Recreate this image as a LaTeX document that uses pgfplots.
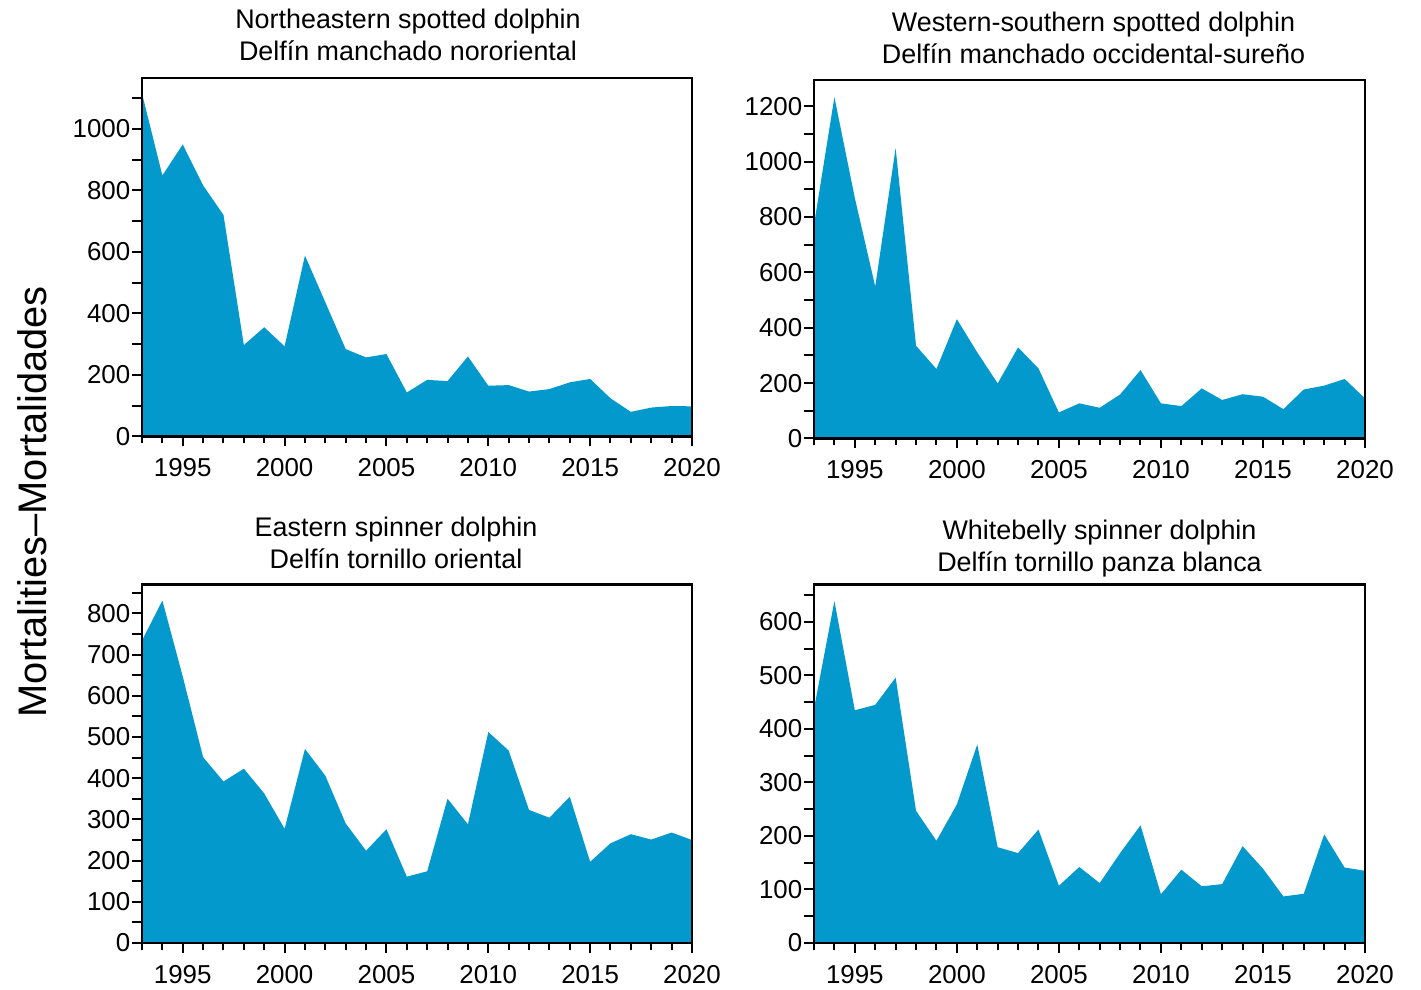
\documentclass[border=0pt]{standalone}
\usepackage{fontspec}
\setmainfont{Liberation Sans}
\usepackage{pgfplots}
\pgfplotsset{compat=1.18}
\definecolor{dolblue}{RGB}{3,153,204}
\pgfplotsset{
  panel/.style={
    scale only axis, width=551bp, height=358.5bp,
    xmin=1993, xmax=2020, ymin=0,
    xtick={1995,2000,...,2020},
    minor xtick={1993,...,2020},
    tick align=outside, tick pos=left,
    major tick length=10bp, minor tick length=7bp,
    tick style={line width=2bp, black},
    axis line style={line width=2.4bp, black},
    axis on top,
    /pgf/number format/1000 sep={},
    /pgf/number format/assume math mode=true,
    tick label style={font=\fontsize{26}{30}\selectfont},
    yticklabel style={inner sep=1.5bp},
    xticklabel style={inner sep=12bp},
    title style={font=\fontsize{27}{32}\selectfont, align=center, at={(0.5,1)}, anchor=south, inner sep=0pt, yshift=10bp},
  }
}
\begin{document}
\begin{tikzpicture}
\path[use as bounding box] (0bp,0bp) rectangle (1421bp,990bp);
\node[rotate=90, font=\fontsize{40}{48}\selectfont] at (32bp,488bp) {Mortalities–Mortalidades};

% Panel 1
\begin{axis}[panel, at={(142bp,553.5bp)}, anchor=south west, width=550bp,
  ymax=1165, ytick={0,100,...,1100}, yticklabels={0,,200,,400,,600,,800,,1000,},
  title={Northeastern spotted dolphin\\Delfín manchado nororiental},
  title style={xshift=-9bp, yshift=1bp}]
\addplot[fill=dolblue, draw=none] coordinates {
(1993,1115) (1994,848) (1995,949) (1996,816) (1997,720) (1998,297) (1999,355)
(2000,293) (2001,588) (2002,436) (2003,284) (2004,257) (2005,268) (2006,143)
(2007,184) (2008,180) (2009,260) (2010,165) (2011,167) (2012,146) (2013,154)
(2014,176) (2015,187) (2016,124) (2017,80) (2018,94) (2019,99) (2020,98)
} \closedcycle;
\end{axis}

% Panel 2
\begin{axis}[panel, at={(814bp,551.5bp)}, anchor=south west,
  ymax=1295, ytick={0,100,...,1200}, yticklabels={0,,200,,400,,600,,800,,1000,,1200},
  title={Western-southern spotted dolphin\\Delfín manchado occidental-sureño},
  title style={xshift=4bp}]
\addplot[fill=dolblue, draw=none] coordinates {
(1993,772) (1994,1233) (1995,869) (1996,549) (1997,1049) (1998,335) (1999,251)
(2000,431) (2001,311) (2002,199) (2003,329) (2004,253) (2005,94) (2006,127)
(2007,111) (2008,159) (2009,247) (2010,127) (2011,117) (2012,181) (2013,139)
(2014,160) (2015,151) (2016,106) (2017,177) (2018,191) (2019,215) (2020,145)
} \closedcycle;
\end{axis}

% Panel 3
\begin{axis}[panel, at={(142bp,47bp)}, anchor=south west, width=550bp,
  ymax=870, ytick={0,50,...,850}, yticklabels={0,,100,,200,,300,,400,,500,,600,,700,,800,},
  title={Eastern spinner dolphin\\Delfín tornillo oriental},
  title style={xshift=-21bp}]
\addplot[fill=dolblue, draw=none] coordinates {
(1993,734) (1994,831) (1995,647) (1996,451) (1997,392) (1998,423) (1999,363)
(2000,277) (2001,471) (2002,406) (2003,290) (2004,224) (2005,276) (2006,161)
(2007,174) (2008,350) (2009,288) (2010,512) (2011,467) (2012,323) (2013,304)
(2014,355) (2015,197) (2016,242) (2017,264) (2018,251) (2019,268) (2020,250)
} \closedcycle;
\end{axis}

% Panel 4
\begin{axis}[panel, at={(814bp,47bp)}, anchor=south west,
  ymax=670, ytick={0,50,...,650}, yticklabels={0,,100,,200,,300,,400,,500,,600,},
  title={Whitebelly spinner dolphin\\Delfín tornillo panza blanca},
  title style={xshift=10bp, yshift=-9bp}]
\addplot[fill=dolblue, draw=none] coordinates {
(1993,438) (1994,639) (1995,435) (1996,445) (1997,496) (1998,247) (1999,191)
(2000,259) (2001,371) (2002,179) (2003,168) (2004,212) (2005,107) (2006,142)
(2007,112) (2008,168) (2009,220) (2010,91) (2011,137) (2012,106) (2013,110)
(2014,181) (2015,139) (2016,87) (2017,92) (2018,203) (2019,141) (2020,135)
} \closedcycle;
\end{axis}
\end{tikzpicture}
\end{document}
